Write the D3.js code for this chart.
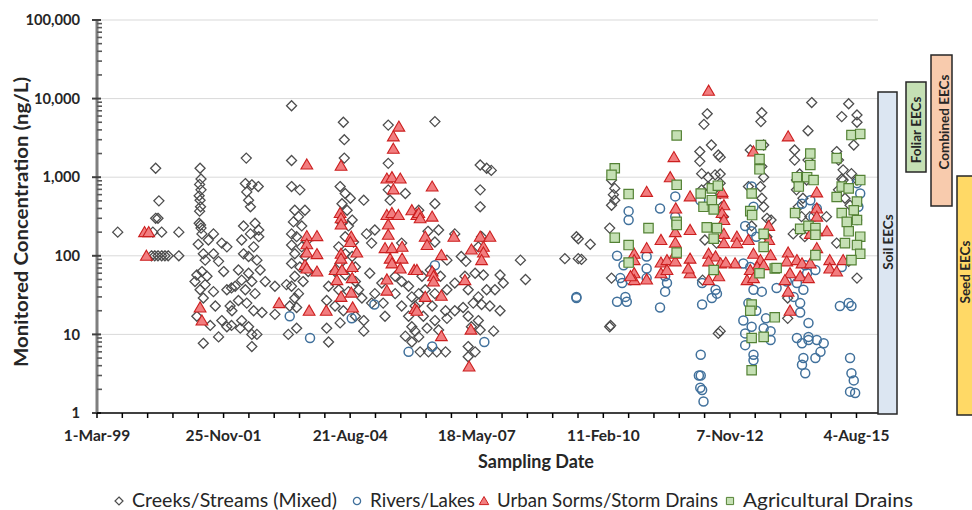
<!DOCTYPE html>
<html><head><meta charset="utf-8">
<script src="https://cdn.jsdelivr.net/npm/d3@7"></script>
<style>body{margin:0;background:#fff} svg{display:block;font-family:Lato,"Liberation Sans",sans-serif}</style>
</head><body>
<svg id="c" width="972" height="510"></svg>
<script>
// ---- data: [decimal year, concentration ng/L] ----
const creeks = [
[1999.61,200],
[2000.43,1300],[2000.50,500],[2000.43,300],[2000.48,300],[2000.37,200],[2000.56,200],[2000.93,200],
[2000.34,100],[2000.41,100],[2000.48,100],[2000.56,100],[2000.63,100],[2000.70,100],[2000.93,100],
[2001.39,1300],[2001.41,950],[2001.38,810],[2001.41,690],[2001.37,580],[2001.39,510],[2001.40,420],[2001.38,370],[2001.37,260],[2001.40,247],[2001.41,225],[2001.43,190],
[2001.68,190],[2001.57,159],[2001.86,145],[2001.97,130],[2001.35,140],[2001.46,106],[2001.68,106],[2001.50,88],[2001.79,85],[2001.90,63],[2001.32,57],[2001.43,63],[2001.54,55],[2001.28,47],[2001.50,43],[2001.39,37],[2001.46,29],[2001.68,35],[2001.72,23],[2001.97,37],[2002.07,39],[2001.61,13],[2001.86,15],[2001.97,12.5],[2002.07,13],[2001.79,9.3],[2002.04,23],[2001.46,7.7],[2001.32,17],
[2002.39,1750],[2002.37,830],[2002.51,800],[2002.40,650],[2002.44,510],[2002.48,420],[2002.58,260],[2002.33,240],[2002.48,190],[2002.66,175],[2002.29,159],[2002.55,130],[2002.33,106],[2002.44,98],[2002.62,88],[2002.22,66],[2002.44,60],[2002.29,49],[2002.51,47],[2002.15,41],[2002.37,37],[2002.58,33],[2002.22,27],[2002.40,25],[2002.55,20],[2002.08,20],[2002.29,15],[2002.44,12.5],[2002.26,12],[2002.51,10],[2002.51,7],
[2003.37,8100],[2003.37,1630],[2003.37,760],[2003.55,690],[2003.44,380],[2003.66,380],[2003.52,315],[2003.41,270],[2003.59,240],[2003.37,190],[2003.48,175],[2003.70,155],[2003.37,137],[2003.59,130],[2003.44,106],[2003.66,98],[2003.37,80],[2003.55,72],[2003.73,63],[2003.44,55],[2003.62,47],[2003.37,41],[2003.52,33],[2003.44,29],[2003.33,23],[2003.48,22],[2003.26,43],[2003.01,41],[2002.80,47],[2002.69,66],[2002.66,213],[2002.65,760],[2002.73,19],[2002.62,10],[2003.30,10],[2003.48,12],[2003.01,18],
[2004.49,5000],[2004.51,3000],[2004.51,1750],[2004.42,760],[2004.53,620],[2004.64,540],[2004.46,460],[2004.57,380],[2004.68,285],[2004.46,260],[2004.60,240],[2004.53,175],[2004.71,150],[2004.39,130],[2004.53,106],[2004.68,98],[2004.42,80],[2004.75,72],[2004.31,63],[2004.53,57],[2004.75,47],[2004.17,41],[2004.39,37],[2004.60,35],[2004.82,37],[2004.89,29],[2004.13,27],[2004.31,23],[2004.49,20],[2004.75,17],[2004.93,15],[2004.42,14],[2004.13,12],[2004.93,11],[2004.17,8],[2005.10,25],[2005.17,33],[2005.32,45],[2005.06,60],[2004.99,190],[2005.17,213],[2005.10,145],[2004.93,510],[2005.35,25],[2005.39,17],
[2005.46,4600],[2005.46,1500],[2005.46,690],[2005.50,510],[2005.83,620],[2005.75,145],[2005.61,55],[2005.75,47],[2005.90,41],[2005.61,33],[2005.97,30],[2005.75,23],[2005.90,17],[2005.97,12.5],[2005.83,9.5],[2006.04,11],[2005.97,8],[2006.12,33],[2006.04,23],
[2006.47,5100],[2007.45,1430],[2007.59,1300],[2007.69,1220],[2007.45,690],[2007.45,420],[2006.47,460],[2006.12,380],[2006.32,205],[2006.55,213],[2006.90,190],[2006.47,150],[2006.73,88],[2006.37,66],[2006.59,55],[2006.19,55],[2006.90,45],[2007.12,55],[2006.26,37],[2006.47,33],[2006.73,37],[2006.12,25],[2006.41,23],[2006.70,20],[2006.90,20],[2007.08,22],[2006.22,17],[2006.47,15],[2006.73,16],[2006.30,12],[2006.55,11.4],[2006.12,9.3],[2006.15,6],[2006.33,6],[2006.51,6],[2006.70,6],
[2007.04,98],[2007.14,85],[2007.48,175],[2007.41,130],[2007.34,60],[2007.52,57],[2007.19,37],[2007.41,30],[2007.59,37],[2007.77,37],[2007.30,25],[2007.48,24],[2007.66,23],[2007.88,20],[2007.88,57],[2007.95,45],[2007.19,17],[2007.41,15],[2007.74,11],[2007.26,12.5],[2007.19,7],[2007.34,6],[2007.19,5.2],[2007.45,11.4],
[2008.32,88],[2008.43,50],[2009.28,92],[2009.57,92],[2009.53,175],
[2009.57,165],[2009.83,140],[2009.64,90],[2010.27,13],[2010.25,12.5],
[2010.29,920],[2010.36,720],[2010.33,600],[2010.36,510],[2010.29,440],[2010.25,225],[2010.29,52],
[2012.36,6400],[2012.29,4700],[2012.45,2570],[2012.20,2120],[2012.20,1590],[2012.60,1915],[2012.24,1110],[2012.38,1000],[2012.53,1070],[2012.24,690],[2012.38,760],[2012.31,159],[2012.56,145],[2012.60,10.3],[2012.26,49],
[2013.54,6600],[2013.52,5100],[2014.62,8900],[2014.54,3900],[2015.42,8600],[2015.27,5900],[2015.60,6200],[2015.60,5000],[2015.53,2570],[2013.29,2220],[2013.58,2570],[2012.64,1800],
[2014.25,2220],[2014.25,1650],[2014.36,1100],[2014.29,920],[2014.54,1650],[2014.51,920],
[2015.16,2120],[2015.30,1240],[2015.48,1110],[2015.27,950],[2015.60,920],
[2013.54,1370],[2013.58,1000],[2013.51,760],[2013.54,540],[2013.58,420],[2013.65,300],[2013.25,760],
[2012.64,1100],[2012.64,840],[2012.64,620],[2012.67,420],[2012.71,315],
[2014.29,690],[2014.43,540],[2014.33,420],[2014.40,315],[2014.58,315],[2014.94,315],[2014.47,175],[2014.22,190],
[2015.20,1650],[2015.30,920],[2015.20,690],[2015.34,540],[2015.45,440],[2015.16,145],[2015.42,85],[2015.60,52],
[2012.64,11],[2014.10,29],[2014.10,16],[2013.32,240],[2013.65,175],[2013.74,285]
];
const rivers = [
[2003.33,17],[2003.77,9],[2004.67,16],[2005.16,24],[2005.90,6],[2006.47,76],[2006.41,7],[2007.54,8],[2009.53,30],
[2009.53,29],[2010.41,100],[2010.55,76],[2010.70,49],[2010.48,52],[2010.52,45],[2010.66,370],[2010.66,285],[2010.41,26],[2010.62,26],[2010.59,30],[2011.05,98],[2011.05,69],[2011.05,52],[2011.34,400],[2011.34,22],[2011.67,570],[2011.67,315],[2011.45,55],[2011.49,45],[2011.45,35],[2012.22,5.5],[2012.18,3.0],[2012.22,3.0],[2012.21,2.1],[2012.25,1.96],[2012.28,1.4],[2012.25,24],[2012.46,29],[2012.54,37],[2012.25,45],[2012.57,33],[2012.21,510],
[2013.32,760],[2013.36,420],[2013.18,240],[2013.32,205],[2013.42,175],
[2013.29,52],[2013.36,37],[2013.54,35],[2013.25,25],[2013.42,20],[2013.14,15],[2013.32,12.5],[2013.58,12],[2013.73,11],[2013.18,10.3],[2013.18,7.3],[2013.36,5.5],[2013.36,4.7],[2013.73,8.5],[2013.63,16],
[2013.86,39],[2014.08,47],[2014.30,45],[2014.44,37],[2014.23,30],[2014.37,25],[2014.37,19],[2014.55,14],[2014.30,9],[2014.41,7.7],[2014.55,8.5],[2014.73,8.5],[2014.88,7.7],[2014.81,6],[2014.70,5],[2014.44,5],[2014.41,4.1],[2014.48,3.2],[2014.55,9.3],
[2014.41,460],[2014.59,510],[2014.73,400],[2014.66,315],
[2015.60,840],[2015.67,620],[2015.63,420],[2015.60,285],
[2015.23,23],[2015.42,25],[2015.48,23],
[2015.45,5],[2015.48,3.2],[2015.53,2.6],[2015.45,1.87],[2015.56,1.8],
[2014.48,76],[2014.70,66],[2014.52,60],
[2013.14,80],[2013.29,72],[2015.27,72]
];
const urban = [
[2000.19,200],[2000.28,200],[2000.23,100],[2001.39,22],[2001.43,15],
[2003.70,1450],[2003.70,178],[2003.92,178],[2003.70,140],[2003.70,110],[2003.92,105],[2003.66,76],[2003.70,69],[2003.92,63],[2003.10,25],[2003.75,20],[2004.12,20],
[2004.44,1400],[2004.42,350],[2004.44,300],[2004.44,250],[2004.66,175],[2004.64,150],[2004.78,110],[2004.44,106],[2004.44,92],[2004.31,66],[2004.46,66],[2004.68,72],[2004.68,52],[2004.35,49],[2004.44,30],[2004.66,34],[2004.69,22],
[2005.69,4400],[2005.57,3300],[2005.57,2300],[2005.43,960],[2005.54,1000],[2005.72,960],[2005.57,700],[2005.43,330],[2005.54,350],[2005.68,330],[2005.46,250],[2005.46,185],[2005.39,125],[2005.54,125],[2005.76,130],[2005.50,92],[2005.76,92],[2005.54,80],[2005.72,69],[2006.02,66],[2005.43,50],[2005.43,36],[2005.97,380],[2006.08,330],[2006.04,21],
[2006.41,760],[2006.12,350],[2006.15,300],[2006.41,315],[2006.26,175],[2006.30,137],[2006.61,102],[2006.88,175],[2006.08,66],[2006.41,63],[2006.44,55],[2006.44,47],[2006.26,30],[2006.61,31],[2006.08,20],[2006.61,9.5],[2007.12,49],[2007.26,120],[2007.45,175],[2007.66,175],[2007.52,130],[2007.52,110],[2007.48,88],[2007.25,11.5],[2007.21,3.9],
[2012.39,12600],[2011.64,1800],[2011.56,1000],[2011.05,650],[2011.68,400],[2011.99,570],[2011.99,213],[2011.67,200],[2011.67,147],[2011.36,159],[2011.05,125],[2010.78,106],[2010.78,88],[2010.78,60],[2010.78,49],[2010.70,55],[2011.05,50],[2011.36,82],[2011.36,60],[2011.49,88],[2011.67,85],[2011.49,66],[2011.67,106],[2011.99,92],[2011.99,60],[2011.95,69],[2012.39,106],[2012.54,98],[2012.39,85],[2012.65,80],[2012.39,49],[2012.61,55],[2012.68,620],
[2014.11,3300],[2013.36,2120],[2014.73,640],[2014.73,400],[2014.73,315],[2014.95,205],[2014.73,205],[2014.59,190],[2014.73,125],
[2012.68,650],[2012.72,440],[2012.68,350],[2012.72,285],[2012.72,190],[2012.72,145],[2013.00,175],[2013.00,145],[2012.96,80],[2012.76,82],
[2013.25,159],[2013.36,106],[2013.51,88],[2013.44,72],[2013.29,66],[2013.22,49],[2013.36,52],[2013.69,240],[2013.69,159],[2013.73,102],[2013.58,76],
[2014.11,110],[2014.08,85],[2014.15,60],[2014.04,49],[2014.30,88],[2014.41,80],[2014.37,55],[2014.55,52],[2014.59,80],[2014.11,35],[2014.15,20],
[2015.01,88],[2015.01,69],[2015.16,63],[2015.30,88]
];
const agri = [
[2010.36,1300],[2010.29,1070],[2010.66,610],[2010.36,170],[2010.66,137],[2010.66,82],[2011.09,225],[2011.70,3400],[2011.70,800],[2011.70,270],[2011.70,247],[2011.70,110],[2012.22,620],[2012.28,420],[2012.46,510],[2012.50,390],[2012.35,230],[2012.57,225],[2012.50,165],[2012.50,66],[2012.46,720],[2012.59,780],
[2013.52,2570],[2013.49,1700],[2013.49,1260],[2013.32,620],[2013.29,370],[2013.33,330],[2013.58,190],[2013.58,130],[2013.82,69],[2013.49,60],[2013.32,24],[2013.29,20],[2013.82,16.5],[2013.32,9],[2013.58,9.3],[2013.32,3.5],
[2014.59,2000],[2014.59,1430],[2014.30,1000],[2014.52,1000],[2014.66,920],[2014.34,760],[2014.26,350],[2014.37,220],[2014.55,240],[2014.70,225],[2014.70,185],[2014.70,102],
[2015.16,1750],[2015.48,3440],[2015.67,3550],[2015.27,760],[2015.42,720],[2015.67,920],[2015.16,560],[2015.27,350],[2015.60,490],[2015.53,380],[2015.38,270],[2015.60,285],[2015.42,205],[2015.67,175],[2015.34,145],[2015.60,137],[2015.67,106],[2015.48,88],[2013.86,70]
];
const seriesNames = ["Creeks/Streams (Mixed)","Rivers/Lakes","Urban Sorms/Storm Drains","Agricultural Drains"];
const xTickLabels = ["1-Mar-99","25-Nov-01","21-Aug-04","18-May-07","11-Feb-10","7-Nov-12","4-Aug-15"];
const yTickValues = [1,10,100,1000,10000,100000];
const yTickLabels = ["1","10","100","1,000","10,000","100,000"];
const eecNames = ["Soil EECs","Foliar EECs","Combined EECs","Seed EECs"];
const xTitle = "Sampling Date";
const yTitle = "Monitored Concentration (ng/L)";

// ---- chart ----
const svg = d3.select("#c");
const L=97, R=878, T=20, B=413;
const DAY=864e5;
const parse = d3.utcParse("%d-%b-%y");
const x0 = parse(xTickLabels[0]);
const x = d3.scaleUtc().domain([x0, new Date(+x0+6170*DAY)]).range([L,R]);
const y = d3.scaleLog().domain([1,100000]).range([B,T]);
function yd(v){const yr=Math.floor(v);const s=Date.UTC(yr,0,1),e=Date.UTC(yr+1,0,1);return new Date(s+(v-yr)*(e-s));}

// gridlines
svg.append("g").selectAll("line").data(yTickValues.slice(1)).join("line")
  .attr("x1",L).attr("x2",R).attr("y1",d=>y(d)).attr("y2",d=>y(d))
  .attr("stroke","#d9d9d9").attr("stroke-width",1);

// y axis
const minor=[];
for(let dec=1;dec<100000;dec*=10) for(let k=2;k<=9;k++) minor.push(dec*k);
const ya = svg.append("g");
ya.append("line").attr("x1",L).attr("x2",L).attr("y1",T).attr("y2",B).attr("stroke","#7f7f7f").attr("stroke-width",3);
ya.selectAll(".mn").data(minor).join("line").attr("x1",L).attr("x2",L+5)
  .attr("y1",d=>y(d)).attr("y2",d=>y(d)).attr("stroke","#595959").attr("stroke-width",1.6);
ya.selectAll(".mj").data(yTickValues).join("line").attr("x1",L-5).attr("x2",L+4)
  .attr("y1",d=>y(d)).attr("y2",d=>y(d)).attr("stroke","#404040").attr("stroke-width",2);
ya.selectAll("text").data(yTickValues).join("text").attr("x",80).attr("y",d=>y(d)).attr("dy","0.35em")
  .attr("text-anchor","end").attr("font-weight","bold").attr("font-size",14.7).attr("fill","#262626")
  .text((d,i)=>yTickLabels[i]);

// x axis
const xTicks = d3.range(0,6170,200).map(n=>new Date(+x0+n*DAY));
const xa = svg.append("g");
xa.append("line").attr("x1",L).attr("x2",R).attr("y1",B).attr("y2",B).attr("stroke","#000").attr("stroke-width",1.5);
xa.selectAll("line.t").data(xTicks).join("line").attr("class","t").attr("x1",d=>x(d)).attr("x2",d=>x(d))
  .attr("y1",B).attr("y2",B+5).attr("stroke","#000").attr("stroke-width",1.5);
xa.selectAll("text").data(xTickLabels).join("text").attr("x",d=>x(parse(d))).attr("y",441)
  .attr("text-anchor","middle").attr("font-weight","bold").attr("font-size",15.5).attr("fill","#262626").text(d=>d);

// titles
svg.append("text").attr("x",536).attr("y",468).attr("text-anchor","middle").attr("font-weight","bold")
  .attr("font-size",18).attr("fill","#262626").text(xTitle);
svg.append("text").attr("transform","translate(28,222) rotate(-90)").attr("text-anchor","middle")
  .attr("font-weight","bold").attr("font-size",18).attr("fill","#262626")
  .attr("textLength",290).attr("lengthAdjust","spacingAndGlyphs").text(yTitle);

// markers
const diamond=r=>`M0,${-r}L${r},0L0,${r}L${-r},0Z`;
const tri=r=>`M0,${-r}L${r*1.05},${r*0.8}L${-r*1.05},${r*0.8}Z`;
const sq=r=>`M${-r},${-r}H${r}V${r}H${-r}Z`;
const P=d=>`translate(${x(yd(d[0]))},${y(d[1])})`;
svg.append("g").selectAll("path").data(creeks).join("path").attr("d",diamond(5))
  .attr("transform",P).attr("fill","none").attr("stroke","#4d4d4d").attr("stroke-width",1.3);
svg.append("g").selectAll("circle").data(rivers).join("circle").attr("r",4.5)
  .attr("transform",P).attr("fill","none").attr("stroke","#41719c").attr("stroke-width",1.5);
svg.append("g").selectAll("path").data(urban).join("path").attr("d",tri(5.6))
  .attr("transform",P).attr("fill","#f27d7f").attr("stroke","#cc1f1f").attr("stroke-width",1.1);
svg.append("g").selectAll("path").data(agri).join("path").attr("d",sq(4.7))
  .attr("transform",P).attr("fill","#c5e0b4").attr("stroke","#548235").attr("stroke-width",1.2);

// EEC boxes
const boxes=[
 {x:878,y:92,w:19,h:322,f:"#dce6f2",cy:242,tx:892.5},
 {x:906,y:82,w:20,h:90,f:"#c5e0b4",cy:130,tx:921},
 {x:931,y:55,w:21,h:151,f:"#f8cbad",cy:122,tx:948.5},
 {x:957,y:176,w:20,h:239,f:"#ffd966",cy:272,tx:969.5}
];
const bg=svg.append("g");
boxes.forEach((b,i)=>{
  bg.append("rect").attr("x",b.x).attr("y",b.y).attr("width",b.w).attr("height",b.h)
    .attr("fill",b.f).attr("stroke","#262626").attr("stroke-width",1.5);
  bg.append("text").attr("transform",`translate(${b.tx},${b.cy}) rotate(-90)`)
    .attr("text-anchor","middle").attr("font-weight","bold").attr("font-size",13.5).attr("fill","#262626").text(eecNames[i]);
});

// legend
const lg=svg.append("g");
const lx=[119,357,484,730];
const lw=[205,105,221,170];
const ly=501;
lg.append("path").attr("d",diamond(4)).attr("transform",`translate(${lx[0]},${ly})`).attr("fill","none").attr("stroke","#4d4d4d").attr("stroke-width",1.2);
lg.append("circle").attr("r",3.6).attr("transform",`translate(${lx[1]},${ly})`).attr("fill","none").attr("stroke","#41719c").attr("stroke-width",1.3);
lg.append("path").attr("d",tri(4.5)).attr("transform",`translate(${lx[2]},${ly})`).attr("fill","#f27d7f").attr("stroke","#cc1f1f");
lg.append("path").attr("d",sq(3.6)).attr("transform",`translate(${lx[3]},${ly})`).attr("fill","#c5e0b4").attr("stroke","#548235");
seriesNames.forEach((n,i)=>{
  lg.append("text").attr("x",lx[i]+13).attr("y",ly).attr("dy","0.35em").attr("font-size",18.5).attr("fill","#262626")
    .attr("textLength",lw[i]).attr("lengthAdjust","spacingAndGlyphs").text(n);
});
</script>
</body></html>
